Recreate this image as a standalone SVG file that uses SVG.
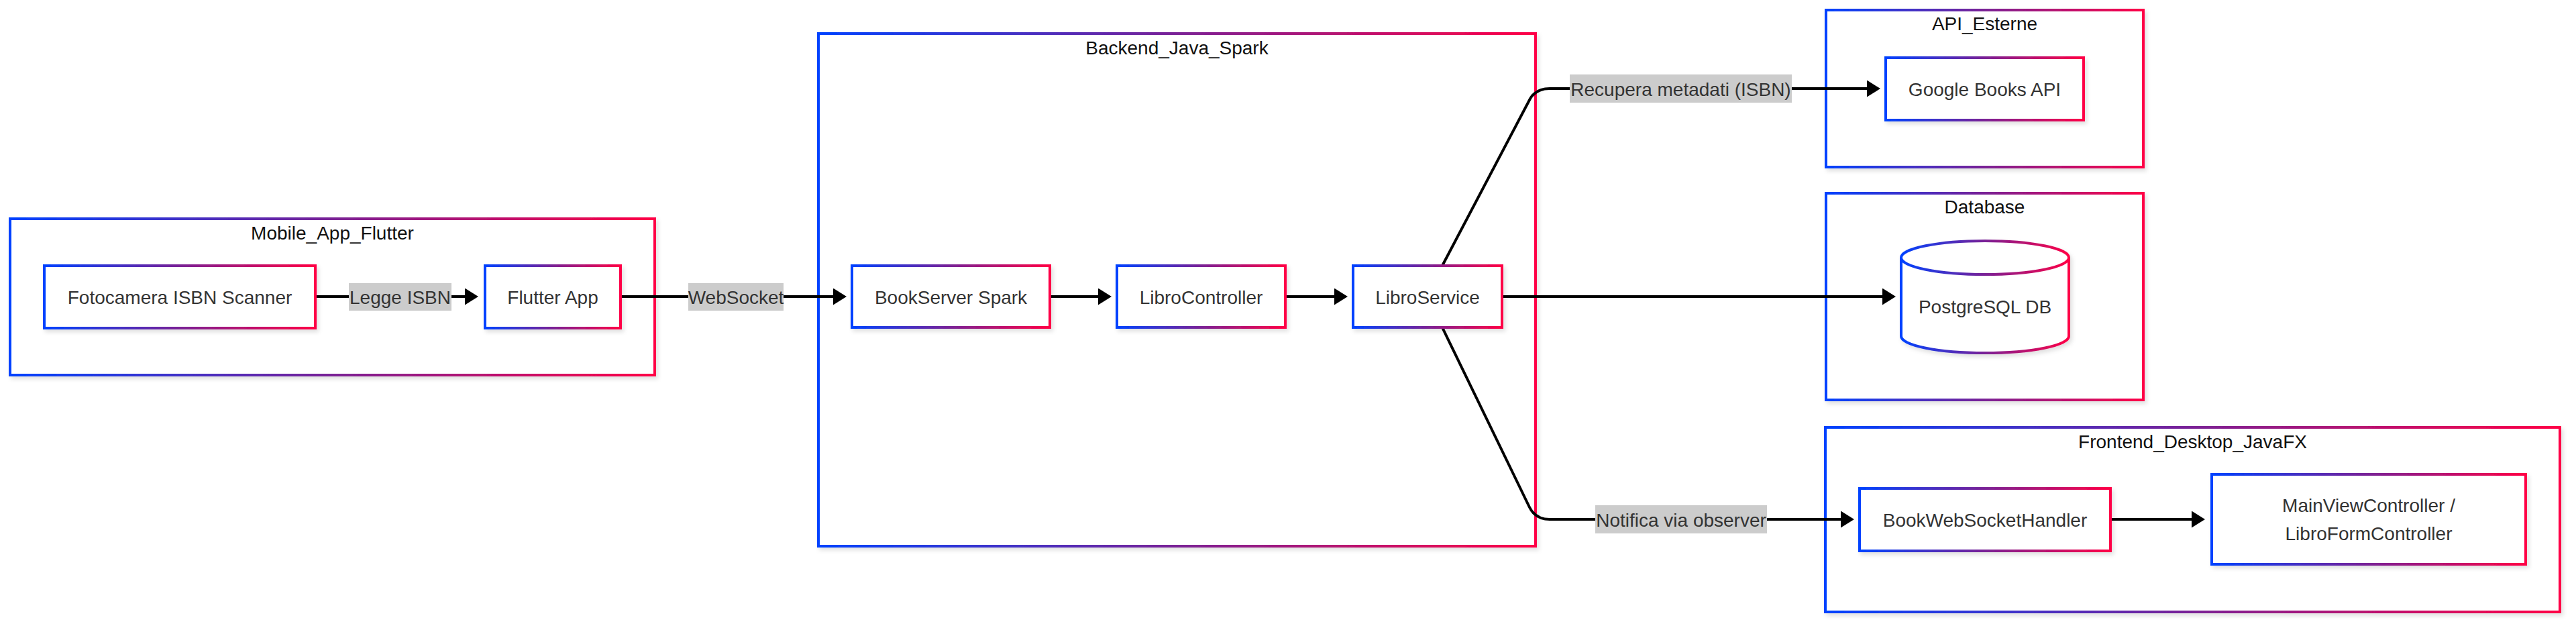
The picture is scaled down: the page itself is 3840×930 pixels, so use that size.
<svg xmlns="http://www.w3.org/2000/svg" width="3840" height="930" viewBox="0 0 3840 930">
<style>
.cl{fill:#ffffff;stroke:url(#g);stroke-width:4;filter:url(#sh)}
.nd{fill:#ffffff;stroke:url(#g);stroke-width:4;filter:url(#sh)}
.ct{font-family:"Liberation Sans",Arial,sans-serif;font-size:28px;fill:#111;text-anchor:middle}
.nt{font-family:"Liberation Sans",Arial,sans-serif;font-size:28px;fill:#333;text-anchor:middle;dominant-baseline:central}
.ed{fill:none;stroke:#000;stroke-width:4;marker-end:url(#ah)}
.lb{fill:#cccccc}
</style>
<defs>
<linearGradient id="g" x1="0" y1="0" x2="1" y2="0">
<stop offset="0" stop-color="#0042ff"/>
<stop offset="0.5" stop-color="#7a2296"/>
<stop offset="1" stop-color="#ff0046"/>
</linearGradient>
<filter id="sh" x="-10%" y="-10%" width="120%" height="130%">
<feDropShadow dx="3" dy="4" stdDeviation="3" flood-color="#000" flood-opacity="0.12"/>
</filter>
<marker id="ah" markerUnits="userSpaceOnUse" markerWidth="20" markerHeight="25" viewBox="0 0 20 25" refX="14" refY="12.5" orient="auto">
<path d="M0,0 L20,12.5 L0,25 z" fill="#000"/>
</marker>
</defs>
<rect width="3840" height="930" fill="#ffffff"/>

<g id="cluster-mobile"><rect class="cl" x="15" y="326" width="961" height="233"/><text class="ct" x="495.5" y="357">Mobile_App_Flutter</text></g>
<g id="cluster-backend"><rect class="cl" x="1220" y="50" width="1069" height="764"/><text class="ct" x="1754.5" y="81">Backend_Java_Spark</text></g>
<g id="cluster-api"><rect class="cl" x="2722" y="15" width="473" height="234"/><text class="ct" x="2958.5" y="45">API_Esterne</text></g>
<g id="cluster-db"><rect class="cl" x="2722" y="288" width="473" height="308"/><text class="ct" x="2958.5" y="318">Database</text></g>
<g id="cluster-frontend"><rect class="cl" x="2721" y="637" width="1095" height="275"/><text class="ct" x="3268.5" y="668">Frontend_Desktop_JavaFX</text></g>

<g id="connectors">
<path class="ed" d="M470,442 L707,442"/>
<path class="ed" d="M925,442 L1256,442"/>
<path class="ed" d="M1565,442 L1651,442"/>
<path class="ed" d="M1916,442 L2003,442"/>
<path class="ed" d="M2239,442 L2820,442"/>
<path class="ed" d="M2150,396 L2281,147 Q2290,132 2310,132 L2797,132"/>
<path class="ed" d="M2150,488 L2280,756 Q2289,774 2310,774 L2758,774"/>
<path class="ed" d="M3146,774 L3281,774"/>
<g id="edge-labels">
<rect class="lb" x="520" y="422" width="153" height="41"/><text class="nt" x="596.5" y="443">Legge ISBN</text>
<rect class="lb" x="1026" y="422" width="142" height="41"/><text class="nt" x="1097" y="443">WebSocket</text>
<rect class="lb" x="2340" y="111" width="331" height="42"/><text class="nt" x="2505.5" y="133">Recupera metadati (ISBN)</text>
<rect class="lb" x="2378" y="753" width="256" height="42"/><text class="nt" x="2506" y="775">Notifica via observer</text>
</g>
</g>

<g id="node-fotocamera"><rect class="nd" x="66" y="396" width="404" height="93"/><text class="nt" x="268" y="443">Fotocamera ISBN Scanner</text></g>
<g id="node-flutter"><rect class="nd" x="723" y="396" width="202" height="93"/><text class="nt" x="824" y="443">Flutter App</text></g>
<g id="node-bookserver"><rect class="nd" x="1270" y="396" width="295" height="92"/><text class="nt" x="1417.5" y="443">BookServer Spark</text></g>
<g id="node-librocontroller"><rect class="nd" x="1665" y="396" width="251" height="92"/><text class="nt" x="1790.5" y="443">LibroController</text></g>
<g id="node-libroservice"><rect class="nd" x="2017" y="396" width="222" height="92"/><text class="nt" x="2128" y="443">LibroService</text></g>
<g id="node-google"><rect class="nd" x="2811" y="86" width="295" height="93"/><text class="nt" x="2958.5" y="133">Google Books API</text></g>
<g id="node-postgres"><path class="nd" d="M2834,384 a125,25 0 0 0 250,0 a125,25 0 0 0 -250,0 l0,117 a125,25 0 0 0 250,0 l0,-117"/><text class="nt" x="2959" y="457">PostgreSQL DB</text></g>
<g id="node-bwsh"><rect class="nd" x="2772" y="728" width="374" height="93"/><text class="nt" x="2959" y="775">BookWebSocketHandler</text></g>
<g id="node-mainview"><rect class="nd" x="3297" y="707" width="468" height="134"/><text class="nt" x="3531" y="753">MainViewController /</text><text class="nt" x="3531" y="795">LibroFormController</text></g>
</svg>
